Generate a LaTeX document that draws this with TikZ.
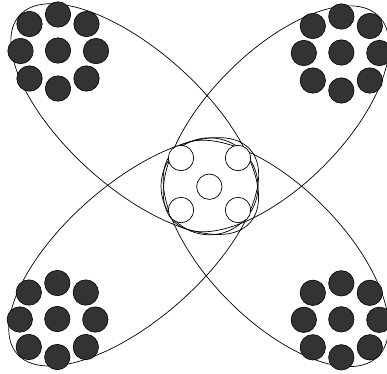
\documentclass[tikz,border=0pt]{standalone}
\usepackage{tikz}

\begin{document}
\begin{tikzpicture}[x=1pt,y=-1pt,petal/.style={black,line width=0.7pt},member/.style={draw=black,fill=black!80,line width=0.6pt},hub/.style={draw=black,fill=white,line width=0.7pt}]
	\useasboundingbox (0,0) rectangle (387,373);
	\clip (0,0) rectangle (387,373);
	\foreach \px/\py/\ang/\a/\b in {134.7/119.1/-42/155/68,276.2/118.8/45/145/67,133.7/251.8/41.2/155/68,275.9/253.4/-45.2/145/67} \draw[petal,rotate around={\ang:(\px,\py)}] (\px,\py) ellipse [x radius=\a,y radius=\b];
	\draw[petal] (209.5,186.3) circle (48.5);
	\foreach \x/\y in {181/158,238/158,181/210,238/210,209.3/186.7} \draw[hub] (\x,\y) circle (12.7);
	\foreach \cx/\cy in {58/50.5,341.3/52.5,57.3/319,341.3/319.3} \foreach \dx/\dy in {0/0,0/-36,28.5/-26.5,38/0.5,28.5/28,0/38,-28.5/28,-37.5/0.5,-28.5/-26.5} \draw[member] (\cx+\dx,\cy+\dy) circle (12.7);
\end{tikzpicture}
\end{document}
